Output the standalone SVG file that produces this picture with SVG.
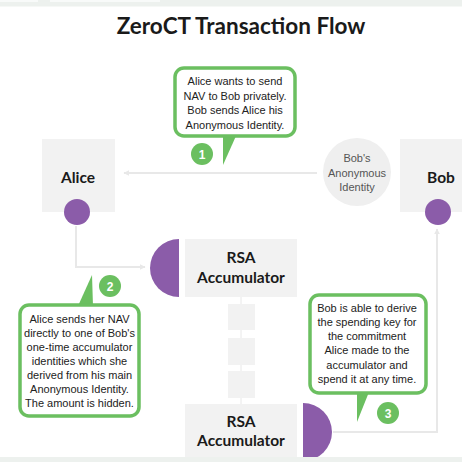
<svg xmlns="http://www.w3.org/2000/svg" width="462" height="462" viewBox="0 0 462 462">
<defs>
<style>
.box{fill:#f2f2f2}
.purple{fill:#8b5ca9}
.lbl{font-family:Lato,"Open Sans",sans-serif;font-weight:bold;font-size:15.5px;fill:#1a1a1a;text-anchor:middle}
.note{font-family:"Liberation Sans",Arial,sans-serif;font-size:11px;fill:#222;text-anchor:middle}
.idt{font-family:"Liberation Sans",Arial,sans-serif;font-size:11px;fill:#555;text-anchor:middle}
.call{fill:#fff;stroke:#6bbf60;stroke-width:3.5}
.green{fill:#6bbf60}
.badge{font-family:"Liberation Sans",Arial,sans-serif;font-weight:bold;font-size:12px;fill:#fff;text-anchor:middle}
.conn{fill:none;stroke:#e8e8e8;stroke-width:2}
</style>
<marker id="arr" viewBox="0 0 10 10" refX="9" refY="5" markerWidth="6" markerHeight="6" orient="auto" markerUnits="userSpaceOnUse">
<path d="M0,0 L10,5 L0,10 z" fill="#e8e8e8"/>
</marker>
</defs>
<rect x="0" y="0" width="462" height="462" fill="#fff"/>
<rect x="0" y="0" width="462" height="6.5" fill="#edf1ee"/>
<rect x="0" y="0" width="38" height="2" fill="#f8faf9"/>
<rect x="50" y="0" width="110" height="2" fill="#f8faf9"/>

<text x="241" y="34" font-family="Lato,'Open Sans',sans-serif" font-weight="bold" font-size="22.5" fill="#1a1a1a" text-anchor="middle">ZeroCT Transaction Flow</text>

<g id="connectors">
<line class="conn" x1="317" y1="173" x2="124" y2="173" marker-end="url(#arr)"/>
<polyline class="conn" points="76,226 76,267 145,267" marker-end="url(#arr)"/>
<polyline class="conn" points="333,432 437,432 437,229" marker-end="url(#arr)"/>
<line x1="241" y1="297" x2="241" y2="404" stroke="#e8e8e8" stroke-width="1"/>
</g>

<g id="alice">
<rect class="box" x="42" y="139" width="73" height="73"/>
<text class="lbl" x="78" y="183">Alice</text>
<circle class="purple" cx="77" cy="212" r="13"/>
</g>

<g id="bob">
<rect class="box" x="400" y="139" width="62" height="73"/>
<text class="lbl" x="441" y="183">Bob</text>
<circle class="purple" cx="438" cy="212" r="13"/>
</g>

<g id="bob-identity">
<circle cx="357" cy="172" r="34" fill="#efefef"/>
<text class="idt" x="357" y="162">Bob's</text>
<text class="idt" x="357" y="176.5">Anonymous</text>
<text class="idt" x="357" y="191">Identity</text>
</g>

<g id="rsa-top">
<path class="purple" d="M179,239 A29,29 0 0 0 179,297 Z"/>
<rect class="box" x="185" y="239" width="112" height="58"/>
<text class="lbl" x="241" y="263">RSA</text>
<text class="lbl" x="241" y="283">Accumulator</text>
</g>

<g id="chain">
<rect class="box" x="228" y="304" width="27" height="26"/>
<rect class="box" x="228" y="338" width="27" height="27"/>
<rect class="box" x="228" y="371" width="27" height="27"/>
</g>

<g id="rsa-bottom">
<rect class="box" x="185" y="404" width="112" height="53"/>
<path class="purple" d="M303,403 A29,29 0 0 1 303,461 Z"/>
<text class="lbl" x="241" y="427">RSA</text>
<text class="lbl" x="241" y="446">Accumulator</text>
<rect x="0" y="457" width="462" height="5" fill="#edf1ee"/>
</g>

<g id="callout-1">
<path class="green" d="M223,136 L236,136 L223,165 Z"/>
<rect class="call" x="175" y="68" width="120" height="68" rx="9"/>
<text class="note" x="235" y="85">Alice wants to send</text>
<text class="note" x="235" y="99.5">NAV to Bob privately.</text>
<text class="note" x="235" y="114">Bob sends Alice his</text>
<text class="note" x="235" y="128.5">Anonymous Identity.</text>
<circle class="green" cx="202" cy="154" r="11"/>
<text class="badge" x="202" y="158.5">1</text>
</g>

<g id="callout-2">
<path class="green" d="M78,306 L93,306 L92,275 Z"/>
<rect class="call" x="20" y="305" width="119" height="111" rx="9"/>
<text class="note" x="79.5" y="323">Alice sends her NAV</text>
<text class="note" x="79.5" y="337">directly to one of Bob's</text>
<text class="note" x="79.5" y="351">one-time accumulator</text>
<text class="note" x="79.5" y="365">identities which she</text>
<text class="note" x="79.5" y="379">derived from his main</text>
<text class="note" x="79.5" y="393">Anonymous Identity.</text>
<text class="note" x="79.5" y="407">The amount is hidden.</text>
<circle class="green" cx="110" cy="286" r="11"/>
<text class="badge" x="110" y="290.5">2</text>
</g>

<g id="callout-3">
<path class="green" d="M357,392 L369,392 L357,422 Z"/>
<rect class="call" x="310" y="295" width="116" height="98" rx="9"/>
<text class="note" x="367" y="312">Bob is able to derive</text>
<text class="note" x="367" y="326">the spending key for</text>
<text class="note" x="367" y="340">the commitment</text>
<text class="note" x="367" y="354">Alice made to the</text>
<text class="note" x="367" y="368.5">accumulator and</text>
<text class="note" x="367" y="383">spend it at any time.</text>
<circle class="green" cx="388" cy="413" r="11"/>
<text class="badge" x="388" y="417.5">3</text>
</g>
</svg>
